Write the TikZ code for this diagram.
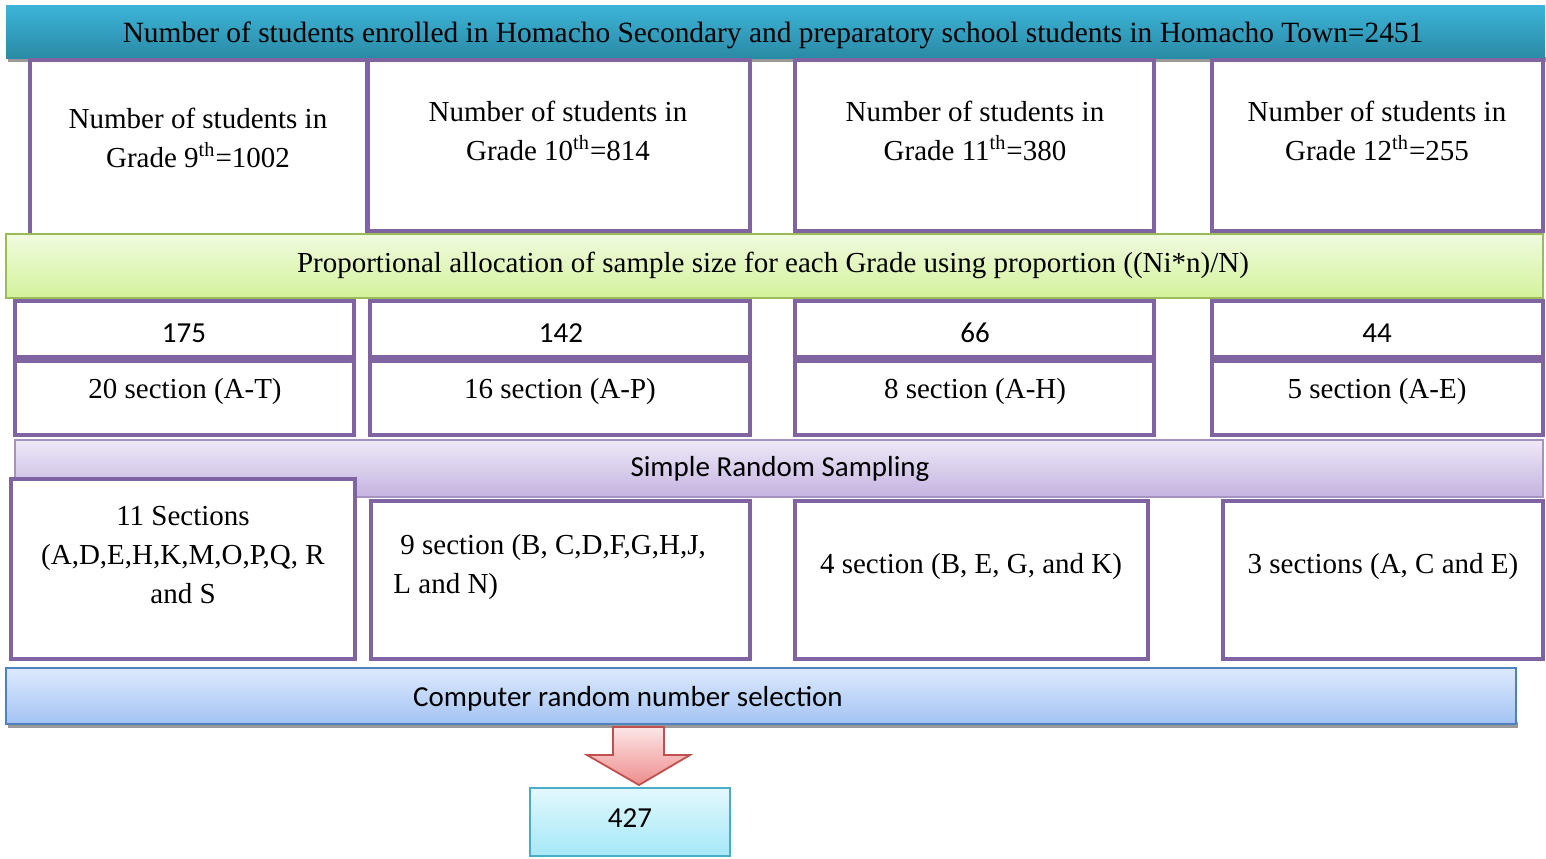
\documentclass[tikz,border=0pt]{standalone}
\usepackage{fontspec}
\setmainfont{Liberation Serif}
\newfontfamily\calib{Carlito}
\usetikzlibrary{fit}
\definecolor{purp}{HTML}{8064A2}
\definecolor{tealT}{HTML}{3DB4D9}
\definecolor{tealB}{HTML}{2A8AA5}
\definecolor{grnT}{HTML}{F0FBDF}
\definecolor{grnB}{HTML}{D4F29C}
\definecolor{grnD}{HTML}{9BBB59}
\definecolor{lavT}{HTML}{EEE9F7}
\definecolor{lavB}{HTML}{C4B3E1}
\definecolor{bluT}{HTML}{DDEAFD}
\definecolor{bluB}{HTML}{A3C3F4}
\definecolor{bluD}{HTML}{4F81BD}
\definecolor{redT}{HTML}{FCE6E6}
\definecolor{redB}{HTML}{EE8C8C}
\definecolor{redD}{HTML}{C0504D}
\definecolor{cyaT}{HTML}{E2F8FD}
\definecolor{cyaB}{HTML}{A5E8F8}
\definecolor{cyaD}{HTML}{4BACC6}
\tikzset{
  box/.style={draw=purp, line width=2.2pt, fill=white, inner sep=0pt},
  serif/.style={font=\fontsize{14.5}{19.3}\selectfont, align=center, inner sep=0pt},
  sans/.style={font=\calib\fontsize{14.5}{19.3}\selectfont, align=center, inner sep=0pt},
  shadowbar/.style={fill=black!40, draw=none, inner sep=0pt},
}
\begin{document}
\begin{tikzpicture}[x=0.5pt, y=-0.5pt]
\useasboundingbox (0,0) rectangle (1546,858);
% top bar
\node[shadowbar, fit={(8,57) (1546,62)}] (topsh) {};
\node[fit={(6,5) (1545,58)}, inner sep=0pt, top color=tealT, bottom color=tealB, draw=none] (top) {};
\node[serif, font=\fontsize{14.7}{19.3}\selectfont] (toptxt) at (773,35) {Number of students enrolled in Homacho Secondary and preparatory school students in Homacho Town=2451};
% row 1
\node[box, fit={(30,60) (367,238)}] (g9) {};
\node[box, fit={(368,60) (750,231)}] (g10) {};
\node[box, fit={(795,60) (1154,231)}] (g11) {};
\node[box, fit={(1212,60) (1543,231)}] (g12) {};
\node[serif] (g9t) at (198,138) {Number of students in\\Grade 9\textsuperscript{th}=1002};
\node[serif] (g10t) at (558,131) {Number of students in\\Grade 10\textsuperscript{th}=814};
\node[serif] (g11t) at (975,131) {Number of students in\\Grade 11\textsuperscript{th}=380};
\node[serif] (g12t) at (1377,131) {Number of students in\\Grade 12\textsuperscript{th}=255};
% green bar
\node[fit={(6,234) (1543,298)}, inner sep=0pt, top color=grnT, bottom color=grnB, draw=grnD, line width=1pt] (prop) {};
\node[serif] (propt) at (773,265) {Proportional allocation of sample size for each Grade using proportion ((Ni*n)/N)};
% row 2
\node[box, fit={(15,301) (354,357)}] (n9) {};
\node[box, fit={(370,301) (750,357)}] (n10) {};
\node[box, fit={(795,301) (1154,357)}] (n11) {};
\node[box, fit={(1212,301) (1543,357)}] (n12) {};
\node[sans] (n9t) at (184,333) {175};
\node[sans] (n10t) at (561,333) {142};
\node[sans] (n11t) at (975,333) {66};
\node[sans] (n12t) at (1377,333) {44};
% row 3
\node[box, fit={(15,361) (354,435)}] (s9) {};
\node[box, fit={(370,361) (750,435)}] (s10) {};
\node[box, fit={(795,361) (1154,435)}] (s11) {};
\node[box, fit={(1212,361) (1543,435)}] (s12) {};
\node[serif] (s9t) at (185,392) {20 section (A-T)};
\node[serif] (s10t) at (560,392) {16 section (A-P)};
\node[serif] (s11t) at (975,392) {8 section (A-H)};
\node[serif] (s12t) at (1377,392) {5 section (A-E)};
% purple bar
\node[fit={(15,440) (1543,497)}, inner sep=0pt, top color=lavT, bottom color=lavB, draw=purp!70, line width=1pt] (srs) {};
\node[sans] (srst) at (780,469) {Simple Random Sampling};
% row 4
\node[box, fit={(11,479) (355,659)}] (r9) {};
\node[box, fit={(371,501) (750,659)}] (r10) {};
\node[box, fit={(795,501) (1148,659)}] (r11) {};
\node[box, fit={(1223,501) (1543,659)}] (r12) {};
\node[serif] (r9t) at (183,555) {11 Sections\\(A,D,E,H,K,M,O,P,Q, R\\and S};
\node[serif, align=left, anchor=west] (r10t) at (393,567) {\hspace{3.5pt}9 section (B, C,D,F,G,H,J,\\L and N)};
\node[serif] (r11t) at (971,567) {4 section (B, E, G, and K)};
\node[serif] (r12t) at (1383,567) {3 sections (A, C and E)};
% blue bar
\node[shadowbar, fit={(8,722) (1518,728)}] (selsh) {};
\node[fit={(6,668) (1516,724)}, inner sep=0pt, top color=bluT, bottom color=bluB, draw=bluD, line width=1pt] (sel) {};
\node[sans] (selt) at (628,699) {Computer random number selection};
% arrow
\shadedraw[top color=redT, bottom color=redB, draw=redD, line width=0.9pt, line join=miter]
  (613,727) -- (664,727) -- (664,755) -- (690,755) -- (639,785) -- (587,755) -- (613,755) -- cycle;
% result
\node[fit={(530,788) (730,856)}, inner sep=0pt, top color=cyaT, bottom color=cyaB, draw=cyaD, line width=1pt] (res) {};
\node[sans] (rest) at (630,818) {427};
\end{tikzpicture}
\end{document}
